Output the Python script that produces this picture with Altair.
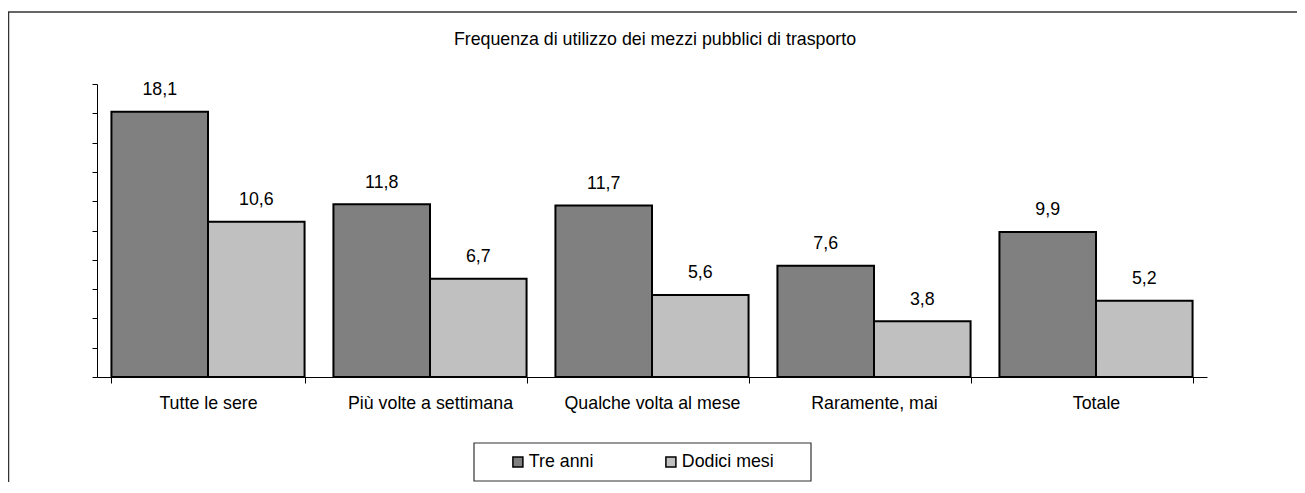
import altair as alt
import pandas as pd

categories = ["Tutte le sere", "Più volte a settimana", "Qualche volta al mese", "Raramente, mai", "Totale"]
series_names = ["Tre anni", "Dodici mesi"]
tre_anni = [18.1, 11.8, 11.7, 7.6, 9.9]
dodici_mesi = [10.6, 6.7, 5.6, 3.8, 5.2]
colors = ["#808080", "#C0C0C0"]
y_ticks = [0, 2, 4, 6, 8, 10, 12, 14, 16, 18, 20]
title_text = "Frequenza di utilizzo dei mezzi pubblici di trasporto"

rows = []
for c, a, b in zip(categories, tre_anni, dodici_mesi):
    rows.append({"cat": c, "serie": series_names[0], "val": a})
    rows.append({"cat": c, "serie": series_names[1], "val": b})
df = pd.DataFrame(rows)

FONT = "Liberation Sans"
FS = 17.8

x = alt.X(
    "cat:N", sort=categories, title=None,
    scale=alt.Scale(paddingInner=0.13, paddingOuter=0.065),
    axis=alt.Axis(labelAngle=0, tickBand="extent", tickSize=6, labelPadding=11.5,
                  domainColor="black", tickColor="black", labelColor="black",
                  labelFont=FONT, labelFontSize=FS, labelLimit=400),
)
xo = alt.XOffset("serie:N", sort=series_names, scale=alt.Scale(paddingInner=0, paddingOuter=0))
y = alt.Y(
    "val:Q", title=None,
    scale=alt.Scale(domain=[0, 20], nice=False),
    axis=alt.Axis(values=y_ticks, tickCount=11, labels=False, grid=False, tickSize=5,
                  domainColor="black", tickColor="black"),
)
color = alt.Color(
    "serie:N", sort=series_names,
    scale=alt.Scale(domain=series_names, range=colors),
    legend=alt.Legend(
        title=None, orient="none", legendX=412, legendY=369,
        direction="horizontal", columns=2, symbolType="square", symbolSize=100,
        symbolStrokeColor="black", symbolStrokeWidth=1.5, symbolOffset=0,
        labelOffset=2, padding=0, columnPadding=68,
        labelFont=FONT, labelFontSize=FS, labelColor="black",
    ),
)

base = alt.Chart(df)
bars = base.mark_bar(stroke="black", strokeWidth=2).encode(x=x, xOffset=xo, y=y, color=color)
labels = base.transform_calculate(
    lbl="replace(format(datum.val, '.1f'), '.', ',')"
).mark_text(font=FONT, fontSize=FS, color="black", baseline="alphabetic", dy=-16.5).encode(
    x=x, xOffset=xo, y=y, text="lbl:N",
)

one = alt.Data(values=[{"k": 0}])
frame_top = alt.Chart(one).mark_rule(color="#333333", strokeWidth=1.5).encode(
    x=alt.value(-89), x2=alt.value(1200), y=alt.value(-72)
)
frame_left = alt.Chart(one).mark_rule(color="#333333", strokeWidth=1.5).encode(
    x=alt.value(-88.5), y=alt.value(-72), y2=alt.value(400)
)
legend_box = alt.Chart(one).mark_rect(fill="white", stroke="#333333", strokeWidth=1.2).encode(
    x=alt.value(377), x2=alt.value(714), y=alt.value(359), y2=alt.value(397)
)

chart = alt.layer(frame_top, frame_left, legend_box, bars, labels).properties(
    width=1110, height=293,
    autosize=alt.AutoSizeParams(type="none"),
    padding={"left": 89, "top": 76, "right": 90, "bottom": 105},
    view=alt.ViewBackground(stroke="transparent", strokeWidth=0),
    title=alt.TitleParams(
        text=title_text, font=FONT, fontSize=FS, fontWeight="normal", color="black",
        anchor="middle", frame="group", baseline="alphabetic", offset=0, dy=52, dx=3,
    ),
).configure_view(stroke="transparent", strokeWidth=0).configure(
    background="white", style={"cell": {"stroke": "transparent", "strokeWidth": 0}}
)

chart.save("out.html", embed_options={"renderer": "svg", "actions": False})
